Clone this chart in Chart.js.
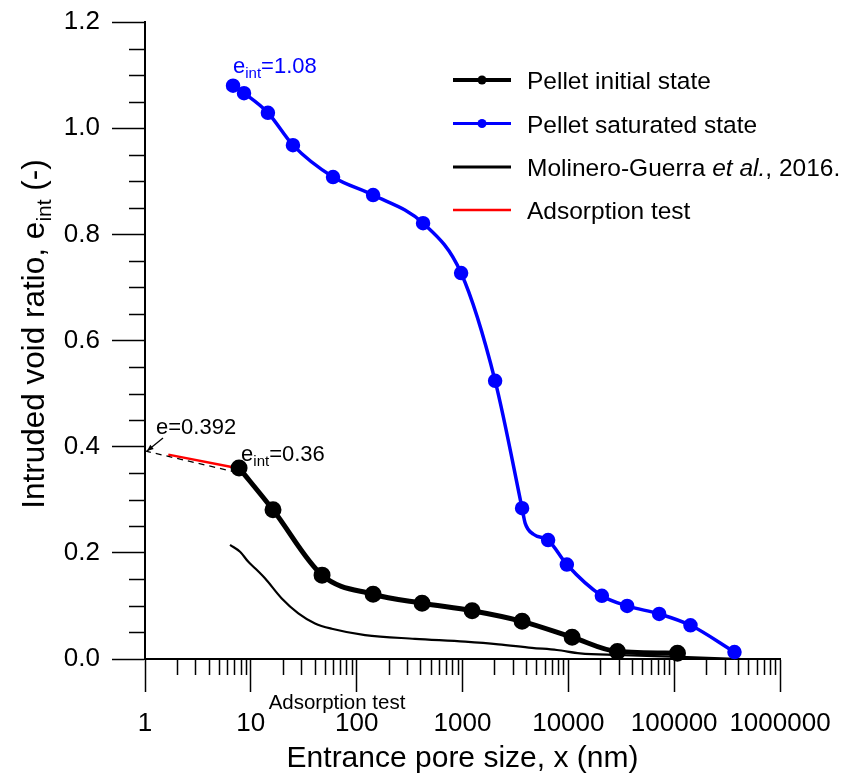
<!DOCTYPE html>
<html>
<head>
<meta charset="utf-8">
<script src="https://cdn.jsdelivr.net/npm/chart.js@4/dist/chart.umd.min.js"></script>
<style>
  html, body { margin: 0; padding: 0; background: #fff; }
  canvas { display: block; }
</style>
</head>
<body>
<canvas id="chart" width="842" height="776"></canvas>
<script>
// Tick values
const xTickValues = [1, 10, 100, 1000, 10000, 100000, 1000000];
const yTickStep = 0.2;
const yMinorStep = 0.05;

// Pellet initial state (MIP)
const initX = [7.74, 16.2, 47.1, 143, 415, 1233, 3656, 10860, 29100, 107500];
const initY = [0.36, 0.281, 0.158, 0.122, 0.105, 0.091, 0.071, 0.041, 0.014, 0.011];

// Pellet saturated state (MIP); false = curve point without a measured marker
const satX = [6.79, 8.62, 14.5, 25.0, 59.8, 143, 424, 970, 2033, 3656, 3907, 4677, 6440, 9680, 20740, 35960, 72140, 142600, 371500];
const satY = [1.08, 1.066, 1.029, 0.968, 0.908, 0.874, 0.821, 0.727, 0.524, 0.284, 0.256, 0.235, 0.224, 0.178, 0.119, 0.100, 0.085, 0.0635, 0.013];
const satMeasured = [true, true, true, true, true, true, true, true, true, true, false, false, true, true, true, true, true, true, true];

// Molinero-Guerra et al., 2016
const molX = [6.36, 7.91, 9.47, 10.96, 13.6, 19.6, 28.1, 40.4, 58.2, 120, 356, 1059, 2185, 4520, 7800, 12900, 28700, 114000, 436000];
const molY = [0.215, 0.202, 0.183, 0.171, 0.152, 0.114, 0.086, 0.067, 0.057, 0.045, 0.038, 0.0326, 0.0277, 0.021, 0.017, 0.0107, 0.0075, 0.004, 0.0];

// Adsorption test and its extrapolation to x = 1 nm
const adsX = [1.66, 7.36];
const adsY = [0.385, 0.36];
const extX = [1, 7.6];
const extY = [0.392, 0.351];

const FONT = '"Liberation Sans", Arial, Helvetica, sans-serif';
const zip = (xs, ys) => xs.map((x, i) => ({ x, y: ys[i] }));

// Draws a run of text pieces (normal / italic / subscript) from a start point
function richText(ctx, x, y, parts, align, color) {
  ctx.save();
  ctx.fillStyle = color || '#000';
  ctx.textBaseline = 'alphabetic';
  ctx.textAlign = 'left';
  const widths = parts.map(p => {
    ctx.font = (p.italic ? 'italic ' : '') + p.size + 'px ' + FONT;
    return ctx.measureText(p.text).width;
  });
  const total = widths.reduce((a, b) => a + b, 0);
  let cx = align === 'center' ? x - total / 2 : (align === 'right' ? x - total : x);
  parts.forEach((p, i) => {
    ctx.font = (p.italic ? 'italic ' : '') + p.size + 'px ' + FONT;
    ctx.fillText(p.text, cx, y + (p.dy || 0));
    cx += widths[i];
  });
  ctx.restore();
  return total;
}

// Keep the plot frame where the layout padding puts it (no extra room for end labels)
function noOverhang(s) {
  s.paddingTop = 0; s.paddingBottom = 0; s.paddingLeft = 0; s.paddingRight = 0;
}

const decorPlugin = {
  id: 'decor',
  afterDraw(chart) {
    const ctx = chart.ctx;
    const xs = chart.scales.x, ys = chart.scales.y;
    const area = chart.chartArea;
    ctx.save();

    // minor ticks on the log axis
    ctx.strokeStyle = '#000';
    ctx.lineWidth = 1.5;
    ctx.beginPath();
    for (let d = 1; d < 1000000; d *= 10) {
      for (let m = 2; m <= 9; m++) {
        const px = Math.round(xs.getPixelForValue(d * m)) + 0.5;
        ctx.moveTo(px, area.bottom);
        ctx.lineTo(px, area.bottom + 16);
      }
    }
    // minor ticks on the void ratio axis
    for (let k = 1; k * yMinorStep < 1.2 - 1e-9; k++) {
      if (k % 4 === 0) continue;
      const py = Math.round(ys.getPixelForValue(k * yMinorStep)) + 0.5;
      ctx.moveTo(area.left, py);
      ctx.lineTo(area.left - 16, py);
    }
    ctx.stroke();

    // axis titles
    richText(ctx, (area.left + area.right) / 2, 767,
      [{ text: 'Entrance pore size, x (nm)', size: 30 }], 'center');
    ctx.save();
    ctx.translate(44, 334);
    ctx.rotate(-Math.PI / 2);
    richText(ctx, 0, 0, [
      { text: 'Intruded void ratio, e', size: 31.5 },
      { text: 'int', size: 21, dy: 7 },
      { text: ' (-)', size: 31.5 }
    ], 'center');
    ctx.restore();

    // annotations
    const p108x = xs.getPixelForValue(satX[0]), p108y = ys.getPixelForValue(satY[0]);
    richText(ctx, p108x, p108y - 13, [
      { text: 'e', size: 22 }, { text: 'int', size: 15, dy: 5 }, { text: '=1.08', size: 22 }
    ], 'left', '#0000ff');

    const p036x = xs.getPixelForValue(initX[0]), p036y = ys.getPixelForValue(initY[0]);
    richText(ctx, p036x + 2, p036y - 7, [
      { text: 'e', size: 22 }, { text: 'int', size: 15, dy: 5 }, { text: '=0.36', size: 22 }
    ], 'left');

    const pex = xs.getPixelForValue(extX[0]), pey = ys.getPixelForValue(extY[0]);
    richText(ctx, pex + 11, pey - 17, [{ text: 'e=0.392', size: 22 }], 'left');
    // arrow to the extrapolated value
    const ax0 = pex + 18, ay0 = pey - 13, ax1 = pex + 2, ay1 = pey;
    ctx.strokeStyle = '#000';
    ctx.lineWidth = 1.3;
    ctx.beginPath();
    ctx.moveTo(ax0, ay0);
    ctx.lineTo(ax1, ay1);
    ctx.stroke();
    const ang = Math.atan2(ay1 - ay0, ax1 - ax0);
    ctx.fillStyle = '#000';
    ctx.beginPath();
    ctx.moveTo(ax1, ay1);
    ctx.lineTo(ax1 - 7 * Math.cos(ang - 0.4), ay1 - 7 * Math.sin(ang - 0.4));
    ctx.lineTo(ax1 - 7 * Math.cos(ang + 0.4), ay1 - 7 * Math.sin(ang + 0.4));
    ctx.closePath();
    ctx.fill();

    richText(ctx, 337, 709, [{ text: 'Adsorption test', size: 20.5 }], 'center');

    // legend
    const rows = [
      { ds: chart.data.datasets[0], parts: [{ text: 'Pellet initial state', size: 24.5 }] },
      { ds: chart.data.datasets[1], parts: [{ text: 'Pellet saturated state', size: 24.5 }] },
      { ds: chart.data.datasets[4], parts: [
        { text: 'Molinero-Guerra ', size: 24.5 }, { text: 'et al.', size: 24.5, italic: true }, { text: ', 2016.', size: 24.5 }] },
      { ds: chart.data.datasets[2], parts: [{ text: 'Adsorption test', size: 24.5 }] }
    ];
    const rowY = [80, 123.5, 167, 210];
    rows.forEach((r, i) => {
      const y = rowY[i];
      ctx.strokeStyle = r.ds.borderColor;
      ctx.lineWidth = r.ds.legendWidth;
      ctx.beginPath();
      ctx.moveTo(453, y);
      ctx.lineTo(511, y);
      ctx.stroke();
      if (r.ds.legendMarker) {
        ctx.fillStyle = r.ds.borderColor;
        ctx.beginPath();
        ctx.arc(482, y, 4.5, 0, Math.PI * 2);
        ctx.fill();
      }
      richText(ctx, 527, y + 9, r.parts, 'left');
    });

    ctx.restore();
  }
};

new Chart(document.getElementById('chart'), {
  type: 'line',
  data: {
    datasets: [
      {
        label: 'Pellet initial state',
        data: zip(initX, initY),
        borderColor: '#000000', backgroundColor: '#000000',
        borderWidth: 5, pointRadius: 6, pointHoverRadius: 6,
        cubicInterpolationMode: 'monotone', clip: false,
        legendWidth: 4, legendMarker: true
      },
      {
        label: 'Pellet saturated state',
        data: zip(satX, satY),
        borderColor: '#0000ff', backgroundColor: '#0000ff',
        borderWidth: 3.5,
        pointRadius: c => satMeasured[c.dataIndex] ? 5.5 : 0,
        pointHoverRadius: c => satMeasured[c.dataIndex] ? 5.5 : 0,
        cubicInterpolationMode: 'monotone', clip: false,
        legendWidth: 3, legendMarker: true
      },
      {
        label: 'Adsorption test',
        data: zip(adsX, adsY),
        borderColor: '#ff0000', backgroundColor: '#ff0000',
        borderWidth: 2.5, pointRadius: 0, pointHoverRadius: 0,
        legendWidth: 2.5, legendMarker: false
      },
      {
        label: 'extrapolation',
        data: zip(extX, extY),
        borderColor: '#000000', borderWidth: 1.3, borderDash: [6, 5],
        pointRadius: 0, pointHoverRadius: 0, clip: false
      },
      {
        label: 'Molinero-Guerra et al., 2016.',
        data: zip(molX, molY),
        borderColor: '#000000', backgroundColor: '#000000',
        borderWidth: 2.2, pointRadius: 0, pointHoverRadius: 0,
        cubicInterpolationMode: 'monotone',
        legendWidth: 3, legendMarker: false
      }
    ]
  },
  options: {
    responsive: false,
    animation: false,
    devicePixelRatio: 1,
    layout: { padding: { top: 22, right: 62, left: 0, bottom: 0 } },
    plugins: { legend: { display: false }, tooltip: { enabled: false } },
    events: [],
    scales: {
      x: {
        type: 'logarithmic',
        position: 'bottom',
        min: 1, max: 1000000,
        afterBuildTicks: s => { s.ticks = xTickValues.map(v => ({ value: v, major: true })); },
        afterFit: s => { s.height = 117; noOverhang(s); },
        ticks: {
          autoSkip: false, maxRotation: 0, minRotation: 0,
          callback: v => String(v),
          font: { family: FONT, size: 26 }, color: '#000', padding: 16
        },
        grid: { drawOnChartArea: false, drawTicks: true, tickLength: 33, tickWidth: 1.5, tickColor: '#000' },
        border: { display: true, color: '#000', width: 2 }
      },
      y: {
        type: 'linear',
        position: 'left',
        min: 0, max: 1.2,
        afterFit: s => { s.width = 145; noOverhang(s); },
        ticks: {
          stepSize: yTickStep,
          callback: v => Number(v).toFixed(1),
          font: { family: FONT, size: 26 }, color: '#000', padding: 12
        },
        grid: { drawOnChartArea: false, drawTicks: true, tickLength: 33, tickWidth: 1.5, tickColor: '#000' },
        border: { display: true, color: '#000', width: 2 }
      }
    }
  },
  plugins: [decorPlugin]
});
</script>
</body>
</html>
